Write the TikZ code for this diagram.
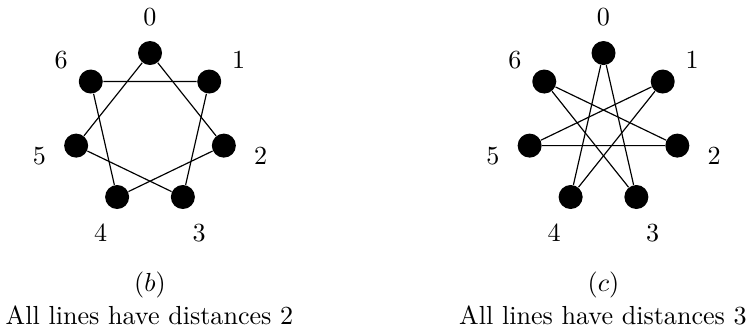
\documentclass[tikz,border=0pt]{standalone}
\begin{document}
\begin{tikzpicture}[x=0.3831pt,y=-0.3831pt,
  dot/.style={circle,fill=black,inner sep=0pt,minimum size=9.2pt},
  lbl/.style={inner sep=0pt},
  edge/.style={draw=black,line width=0.45pt}]
\useasboundingbox (0,0) rectangle (749,333);
% graph (b)
\foreach \k in {0,...,6} {
  \path (150,128.75) ++({\k*360/7-90}:75.75) node[dot] (b\k) {};
  \path (150,130.5) ++({\k*360/7-90}:113.5) node[lbl] (bl\k) {\k};
}
\foreach \a/\b in {0/2,1/3,2/4,3/5,4/6,5/0,6/1}
  \draw[edge] (b\a) -- (b\b);
% graph (c)
\foreach \k in {0,...,6} {
  \path (603.5,128.75) ++({\k*360/7-90}:75.75) node[dot] (c\k) {};
  \path (603.5,130.5) ++({\k*360/7-90}:113.5) node[lbl] (cl\k) {\k};
}
\foreach \a/\b in {0/3,1/4,2/5,3/6,4/0,5/1,6/2}
  \draw[edge] (c\a) -- (c\b);
% captions
\node[anchor=base] (bcap) at (150,291.5) {$(b)$};
\node[anchor=base] (btxt) at (149.5,324) {All lines have distances 2};
\node[anchor=base] (ccap) at (603.5,291.5) {$(c)$};
\node[anchor=base] (ctxt) at (603,324) {All lines have distances 3};
\end{tikzpicture}
\end{document}
